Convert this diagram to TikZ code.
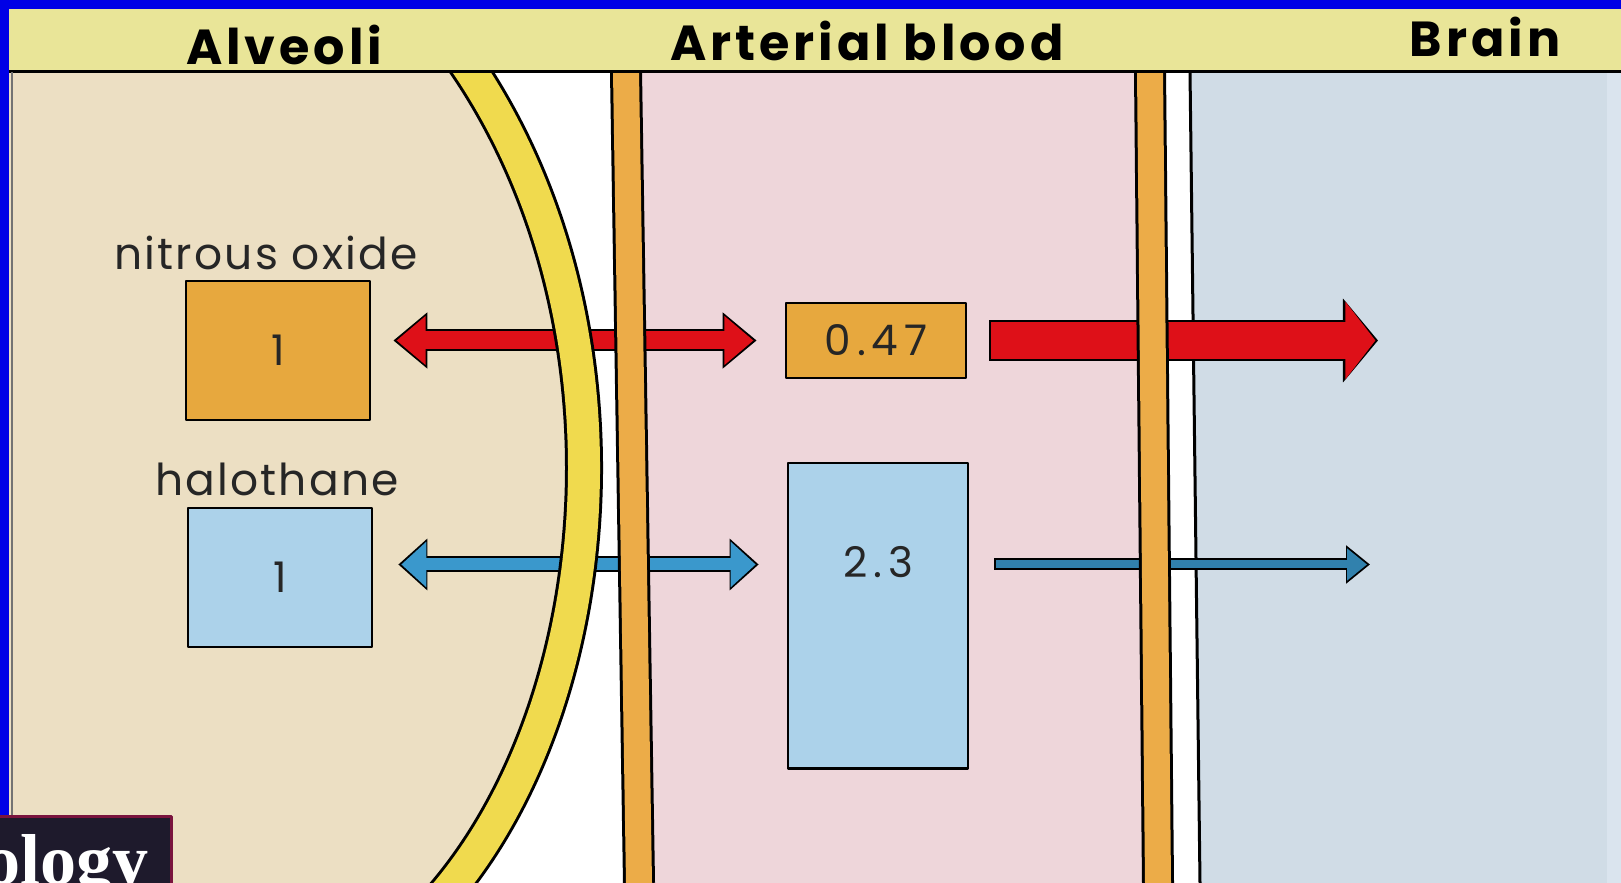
\documentclass[tikz,border=0pt]{standalone}
\usepackage{fontspec}
\setmainfont{Poppins}
\newfontfamily\slidefont{Liberation Serif}
\usetikzlibrary{arrows.meta}

\definecolor{headyellow}{RGB}{233,229,152}
\definecolor{alvbeige}{RGB}{236,223,195}
\definecolor{bloodpink}{RGB}{238,214,218}
\definecolor{brainblue}{RGB}{208,220,230}
\definecolor{brainedge}{RGB}{218,228,238}
\definecolor{nitorange}{RGB}{231,168,62}
\definecolor{halblue}{RGB}{172,210,234}
\definecolor{wallyellow}{RGB}{240,218,78}
\definecolor{wallorange}{RGB}{236,172,72}
\definecolor{flowred}{RGB}{222,16,24}
\definecolor{flowblue}{RGB}{58,152,204}
\definecolor{frameblue}{RGB}{0,0,230}
\definecolor{slidedark}{RGB}{30,26,44}
\definecolor{slidemaroon}{RGB}{122,20,62}

\begin{document}
\begin{tikzpicture}[x=0.01cm,y=-0.01cm,line join=round,
  box/.style={draw=black,line width=0.025cm,inner sep=0pt,text=black!85,font=\fontsize{12}{14}\selectfont\addfontfeatures{LetterSpace=14}},
  gaslabel/.style={anchor=base,inner sep=0pt,text=black!85,font=\fontsize{12.5}{15}\selectfont\addfontfeatures{LetterSpace=5}},
  colhead/.style={anchor=base,inner sep=0pt,font=\bfseries\fontsize{14}{17}\selectfont\addfontfeatures{LetterSpace=8}},
  wall/.style={line width=0.03cm,double distance=0.26cm}]
\useasboundingbox (0,0) rectangle (1621,883);
\clip (0,0) rectangle (1621,883);
\coordinate (barAtop) at (626,72);
\coordinate (barAbot) at (639,883);
\coordinate (barBtop) at (1150,72);
\coordinate (barBbot) at (1158,883);
\coordinate (brainTop) at (1190,72);
\coordinate (brainBot) at (1200,883);
\coordinate (n2oBrain) at (1378,340.5);
\coordinate (halBrain) at (1370,564.5);
\fill[white] (0,0) rectangle (1621,883);
\fill[alvbeige] (9,40) -- (449,40) .. controls (645,300) and (615,700) .. (440,900) -- (9,900) -- cycle;
\fill[bloodpink] (barAtop) -- (barBtop) -- (barBbot) -- (barAbot) -- cycle;
\fill[brainblue] (brainTop) -- (1621,72) -- (1621,883) -- (brainBot) -- cycle;
\fill[brainedge] (1607,72) rectangle (1621,883);
\draw[line width=0.03cm] (brainTop) -- (brainBot);
\node[box,fill=nitorange,minimum width=1.84cm,minimum height=1.39cm] (n2oAlv) at (278,350.5) {1};
\node[box,fill=halblue,minimum width=1.84cm,minimum height=1.39cm] (halAlv) at (280,577.5) {1};
\node[box,fill=nitorange,minimum width=1.80cm,minimum height=0.75cm] (n2oArt) at (876,340.5) {0.47};
\node[box,fill=halblue,minimum width=1.80cm,text height=1.145cm,text depth=1.905cm,anchor=north] (halArt) at (878,462) {2.3};
\node[gaslabel] (n2oName) at (266,270) {nitrous oxide};
\node[gaslabel] (halName) at (277,496) {halothane};
\draw[black,line width=0.22cm,{Triangle[length=0.34cm,width=0.54cm]}-{Triangle[length=0.34cm,width=0.54cm]},shorten <=0.22cm,shorten >=0.28cm] (n2oAlv.east |- n2oArt.west) -- (n2oArt.west);
\draw[flowred,line width=0.18cm,{Triangle[length=0.29cm,width=0.47cm]}-{Triangle[length=0.29cm,width=0.47cm]},shorten <=0.252cm,shorten >=0.312cm] (n2oAlv.east |- n2oArt.west) -- (n2oArt.west);
\draw[black,line width=0.16cm,{Triangle[length=0.29cm,width=0.50cm]}-{Triangle[length=0.29cm,width=0.50cm]},shorten <=0.25cm,shorten >=0.28cm] (halAlv.east |- halBrain) -- (halArt.west |- halBrain);
\draw[flowblue,line width=0.12cm,{Triangle[length=0.25cm,width=0.44cm]}-{Triangle[length=0.25cm,width=0.44cm]},shorten <=0.28cm,shorten >=0.31cm] (halAlv.east |- halBrain) -- (halArt.west |- halBrain);
\draw[black,line width=0.40cm,-{Triangle[length=0.35cm,width=0.82cm]},shorten <=0.22cm] (n2oArt.east) -- (n2oBrain);
\draw[flowred,line width=0.36cm,-{Triangle[length=0.30cm,width=0.76cm]},shorten <=0.24cm,shorten >=0.026cm] (n2oArt.east) -- (n2oBrain);
\draw[black,line width=0.12cm,-{Triangle[length=0.24cm,width=0.37cm]},shorten <=0.25cm] (halArt.east |- halBrain) -- (halBrain);
\draw[flowblue!85!black,line width=0.08cm,-{Triangle[length=0.20cm,width=0.31cm]},shorten <=0.27cm,shorten >=0.03cm] (halArt.east |- halBrain) -- (halBrain);
\draw[double=wallyellow,double distance=0.32cm,line width=0.03cm] (449,40) .. controls (645,300) and (615,700) .. (440,900);
\draw[wall,double=wallorange] (barAtop) -- (barAbot);
\draw[wall,double=wallorange] (barBtop) -- (barBbot);
\fill[headyellow] (9,9) rectangle (1621,72);
\draw[line width=0.03cm] (9,72) -- (1621,72);
\node[colhead] (alvHead) at (284,65) {Alveoli};
\node[colhead] (artHead) at (867,61) {Arterial blood};
\node[colhead] (brainHead) at (1485,57) {Brain};
\fill[frameblue] (0,0) rectangle (1621,9);
\fill[frameblue] (0,0) rectangle (9,817);
\draw[black!55,line width=0.02cm] (12,72) -- (12,817);
\fill[slidedark] (0,817) rectangle (171,883);
\draw[slidemaroon,line width=0.03cm] (0,817) -- (171,817) -- (171,883);
\node[anchor=base west,inner sep=0pt,text=white,font=\slidefont\bfseries\fontsize{20.5}{24}\selectfont] (slideTitle) at (-16,885) {ology};
\end{tikzpicture}
\end{document}
